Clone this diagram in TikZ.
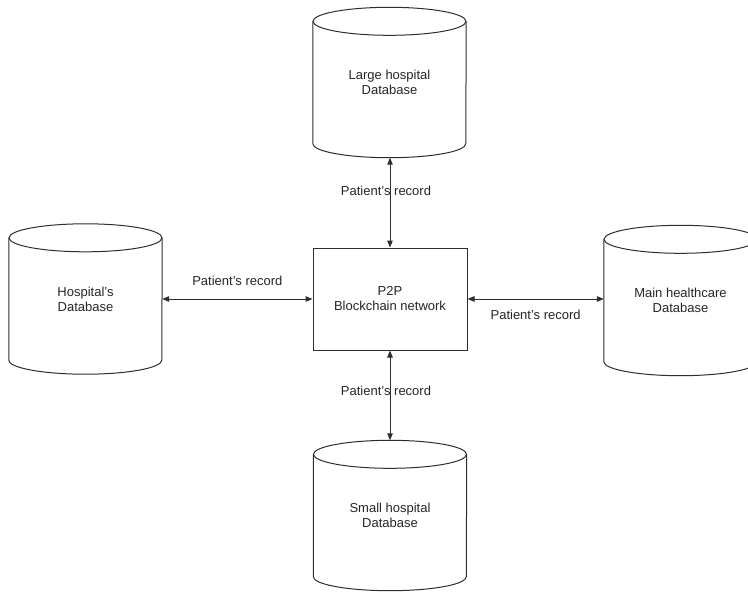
\documentclass[tikz,border=0pt]{standalone}
\usepackage{fontspec}
\setmainfont{Liberation Sans}
\usetikzlibrary{arrows.meta}
\tikzset{
  lineclr/.style={draw=black!82, line width=1pt},
  dbnode/.style={minimum width=153pt, minimum height=150pt, inner sep=0pt, align=center, font=\fontsize{13}{15}\selectfont, text=black!85},
  procbox/.style={lineclr, minimum width=154pt, minimum height=102pt, inner sep=0pt, align=center, font=\fontsize{13}{15}\selectfont, text=black!85},
  link/.style={lineclr, {Triangle[length=7pt,width=5.5pt]}-{Triangle[length=7pt,width=5.5pt]}},
  lbl/.style={font=\fontsize{13}{15}\selectfont, text=black!85, inner sep=0pt}
}
\newcommand\dbcyl[1]{%
  \draw[lineclr] ([yshift=-14pt]#1.north) ellipse [x radius=76.5pt, y radius=14pt];
  \draw[lineclr] ([yshift=-14pt]#1.north west) -- ([yshift=14pt]#1.south west)
     arc[start angle=180, end angle=360, x radius=76.5pt, y radius=14pt]
     -- ([yshift=-14pt]#1.north east);
}
\begin{document}
\begin{tikzpicture}[x=1pt, y=-1pt]
\useasboundingbox (0,0) rectangle (748,592);
\clip (0,0) rectangle (748,592);
\fill[white] (0,0) rectangle (748,592);

\node[dbnode] (lg) at (389.5,82.5) {Large hospital\\Database};
\node[dbnode] (hosp) at (85.5,299) {Hospital's\\Database};
\node[dbnode] (main) at (680.5,300.5) {Main healthcare\\Database};
\node[dbnode] (sm) at (390,515.5) {Small hospital\\Database};
\node[procbox] (p2p) at (390,299) {P2P\\Blockchain network};

\dbcyl{lg}
\dbcyl{hosp}
\dbcyl{main}
\dbcyl{sm}

\draw[link] (lg.south -| p2p.north) -- (p2p.north)
  node[lbl, pos=0.37, xshift=-4pt] {Patient's record};
\draw[link] (p2p.south) -- (sm.north -| p2p.south)
  node[lbl, pos=0.45, xshift=-4pt] {Patient's record};
\draw[link] (hosp.east |- p2p.west) -- (p2p.west)
  node[lbl, midway, yshift=18pt] {Patient's record};
\draw[link] (p2p.east) -- (main.west |- p2p.east)
  node[lbl, midway, yshift=-16pt] {Patient's record};
\end{tikzpicture}
\end{document}
